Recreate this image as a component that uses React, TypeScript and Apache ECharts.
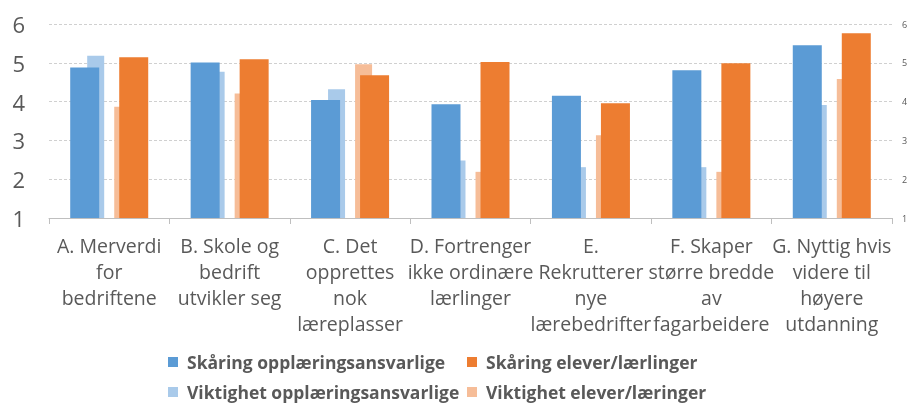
import React, { useEffect, useRef } from "react";
import * as echarts from "echarts";

const categories = [
  "A. Merverdi\nfor\nbedriftene",
  "B. Skole og\nbedrift\nutvikler seg",
  "C. Det\nopprettes\nnok\nlæreplasser",
  "D. Fortrenger\nikke ordinære\nlærlinger",
  "E.\nRekrutterer\nnye\nlærebedrifter",
  "F. Skaper\nstørre bredde\nav\nfagarbeidere",
  "G. Nyttig hvis\nvidere til\nhøyere\nutdanning",
];
const seriesNames = [
  "Skåring opplæringsansvarlige",
  "Skåring elever/lærlinger",
  "Viktighet opplæringsansvarlige",
  "Viktighet elever/læringer",
];
const skaringOppl = [4.88, 5.01, 4.04, 3.93, 4.15, 4.81, 5.45];
const skaringElever = [5.14, 5.09, 4.68, 5.02, 3.96, 4.99, 5.76];
const viktighetOppl = [5.18, 4.77, 4.32, 2.48, 2.31, 2.31, 3.91];
const viktighetElever = [3.87, 4.21, 4.96, 2.19, 3.13, 2.19, 4.58];
const axisMin = 1;
const axisMax = 6;
const axisStep = 1;

const colors = ["#5B9BD5", "#ED7D31", "#A9CAEA", "#F6BD98"];
const textColor = "#595959";
const font = "'Open Sans', sans-serif";

export default function App() {
  const ref = useRef<HTMLDivElement>(null);
  useEffect(() => {
    document.body.style.margin = "0";
    const chart = echarts.init(ref.current!, undefined, { renderer: "svg" });
    const legendItem = (i: number, left: number, top: number) => ({
      data: [seriesNames[i]],
      left,
      top,
      padding: 0,
      icon: "rect",
      itemWidth: 10,
      itemHeight: 10,
      itemGap: 0,
      textStyle: {
        color: textColor,
        fontSize: 17.5,
        fontWeight: "bold",
        fontFamily: font,
        lineHeight: 20,
        padding: [0, 0, 0, 4],
      },
    });
    chart.setOption({
      animation: false,
      color: colors,
      textStyle: { fontFamily: font },
      grid: { left: 49, right: 19, top: 24, bottom: 187, containLabel: false },
      legend: [
        legendItem(0, 168, 352),
        legendItem(1, 467, 352),
        legendItem(2, 168, 382),
        legendItem(3, 467, 382),
      ],
      xAxis: [
        {
          type: "category",
          data: categories,
          axisLine: { lineStyle: { color: "#BFBFBF", width: 1 } },
          axisTick: { show: true, length: 6, lineStyle: { color: "#BFBFBF" } },
          axisLabel: {
            interval: 0,
            color: textColor,
            fontSize: 19.5,
            lineHeight: 26,
            margin: 14,
            fontFamily: font,
            align: "center",
          },
        },
        { type: "category", data: categories, show: false },
      ],
      yAxis: [
        {
          type: "value",
          min: axisMin,
          max: axisMax,
          interval: axisStep,
          axisLine: { show: false },
          axisTick: { show: false },
          axisLabel: { color: textColor, fontSize: 22, margin: 24, fontFamily: font },
          splitLine: { lineStyle: { color: "#D0D0D0", type: [3, 2], width: 1 } },
        },
        {
          type: "value",
          position: "right",
          min: axisMin,
          max: axisMax,
          interval: axisStep,
          axisLine: { show: false },
          axisTick: { show: false },
          axisLabel: { color: textColor, fontSize: 9, margin: 10, fontFamily: font },
          splitLine: { show: false },
        },
      ],
      series: [
        {
          name: seriesNames[0],
          type: "bar",
          data: skaringOppl,
          xAxisIndex: 0,
          yAxisIndex: 0,
          barWidth: 29,
          barGap: "69%",
          z: 3,
          itemStyle: { color: colors[0] },
        },
        {
          name: seriesNames[1],
          type: "bar",
          data: skaringElever,
          xAxisIndex: 0,
          yAxisIndex: 0,
          barWidth: 29,
          barGap: "69%",
          z: 3,
          itemStyle: { color: colors[1] },
        },
        {
          name: seriesNames[2],
          type: "bar",
          data: viktighetOppl,
          xAxisIndex: 1,
          yAxisIndex: 1,
          barWidth: 17,
          barGap: "59%",
          z: 2,
          itemStyle: { color: colors[2] },
        },
        {
          name: seriesNames[3],
          type: "bar",
          data: viktighetElever,
          xAxisIndex: 1,
          yAxisIndex: 1,
          barWidth: 17,
          barGap: "59%",
          z: 2,
          itemStyle: { color: colors[3] },
        },
      ],
    });
    return () => chart.dispose();
  }, []);
  return (
    <div
      ref={ref}
      style={{ position: "fixed", left: 0, top: 0, width: 911, height: 405 }}
    />
  );
}
